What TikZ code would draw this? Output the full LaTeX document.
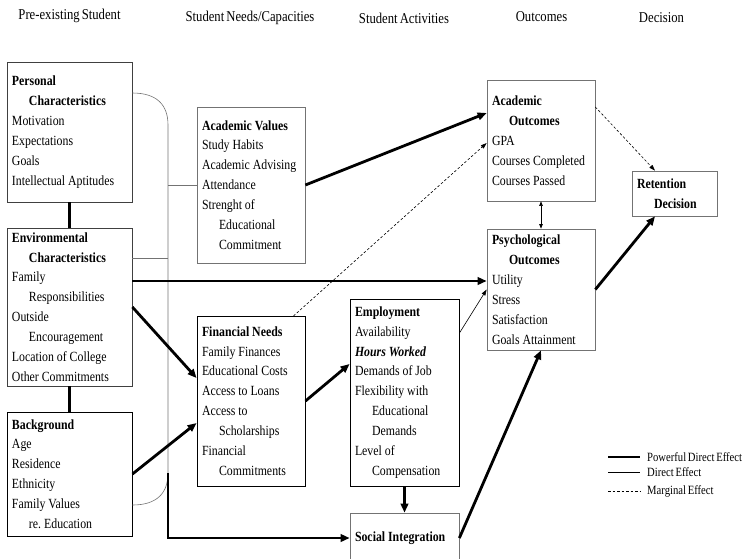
\documentclass[tikz,border=0pt]{standalone}
\usepackage{fontspec}
\setmainfont{Liberation Serif}[FakeStretch=0.845,WordSpace=0.65]
\usetikzlibrary{arrows.meta,calc}
\begin{document}
\begin{tikzpicture}[x=1pt,y=-1pt,
  box/.style={draw=black!55, line width=0.7pt, inner xsep=5pt, inner ysep=2pt,
    align=left, anchor=center, font=\fontsize{14}{19.9}\selectfont,
    execute at begin node={\spaceskip 2.9pt plus 1pt\xspaceskip 3pt plus 1pt\relax}},
  darkbox/.style={box, draw=black, line width=0.9pt},
  head/.style={font=\fontsize{15}{18}\selectfont, anchor=center},
  legtext/.style={font=\fontsize{12.6}{15}\selectfont, anchor=west, inner sep=0pt},
  pow/.style={line width=2.8pt, -{Triangle[length=9pt,width=7.5pt]}},
  powline/.style={line width=2.8pt},
  direct/.style={line width=0.6pt, -{Triangle[length=6pt,width=4pt]}},
  marginal/.style={line width=0.6pt, dash pattern=on 2.5pt off 2pt, -{Triangle[length=6pt,width=4pt]}},
  conn/.style={draw=black!55, line width=0.6pt}
]
\useasboundingbox (0,0) rectangle (749,558);

% headers
\node[head] (h1) at (69.5,16) {Pre-existing Student};
\node[head] (h2) at (250,18) {Student Needs/Capacities};
\node[head] (h3) at (404,18) {Student Activities};
\node[head] (h4) at (541.5,17) {Outcomes};
\node[head] (h5) at (661.5,18) {Decision};

% boxes
\node[box, draw=black!75, minimum width=125pt, text width=115pt, minimum height=140pt] (pers) at (69.5,132)
 {\textbf{Personal}\\\hspace*{17pt}\textbf{Characteristics}\\Motivation\\Expectations\\Goals\\Intellectual Aptitudes};
\node[box, draw=black!75, minimum width=125pt, text width=115pt, minimum height=158pt] (env) at (69.5,307)
 {\textbf{Environmental}\\\hspace*{17pt}\textbf{Characteristics}\\Family\\\hspace*{17pt}Responsibilities\\Outside\\\hspace*{17pt}Encouragement\\Location of College\\Other Commitments};
\node[darkbox, minimum width=125pt, text width=115pt, minimum height=124pt] (back) at (69.5,474)
 {\textbf{Background}\\Age\\Residence\\Ethnicity\\Family Values\\\hspace*{17pt}re. Education};
\node[box, minimum width=108pt, text width=98pt, minimum height=156pt] (acv) at (251,185)
 {\textbf{Academic Values}\\Study Habits\\Academic Advising\\Attendance\\Strenght of\\\hspace*{17pt}Educational\\\hspace*{17pt}Commitment};
\node[darkbox, minimum width=108pt, text width=98pt, minimum height=170pt] (fin) at (251,401)
 {\textbf{Financial Needs}\\Family Finances\\Educational Costs\\Access to Loans\\Access to\\\hspace*{17pt}Scholarships\\Financial\\\hspace*{17pt}Commitments};
\node[darkbox, minimum width=109pt, text width=99pt, minimum height=187pt] (emp) at (404.5,392.5)
 {\textbf{Employment}\\Availability\\\textbf{\textit{Hours Worked}}\\Demands of Job\\Flexibility with\\\hspace*{17pt}Educational\\\hspace*{17pt}Demands\\Level of\\\hspace*{17pt}Compensation};
\node[box, minimum width=109pt, text width=99pt, minimum height=50pt] (soc) at (404.5,538)
 {\textbf{Social Integration}};
\node[box, minimum width=108pt, text width=98pt, minimum height=121pt] (aco) at (541,140.5)
 {\textbf{Academic}\\\hspace*{17pt}\textbf{Outcomes}\\GPA\\Courses Completed\\Courses Passed};
\node[box, minimum width=108pt, text width=98pt, minimum height=121pt] (pso) at (541,289.5)
 {\textbf{Psychological}\\\hspace*{17pt}\textbf{Outcomes}\\Utility\\Stress\\Satisfaction\\Goals Attainment};
\node[box, minimum width=85pt, text width=75pt, minimum height=45pt] (ret) at (674.5,193.5)
 {\textbf{Retention}\\\hspace*{17pt}\textbf{Decision}};

% left column links
\draw[powline] (pers.south) -- (env.north);
\draw[powline] (env.south) -- (back.north);

% bracket
\coordinate (bt) at (168,125);
\coordinate (bb) at (168,473);
\draw[conn] (pers.north east |- 0,93) .. controls (157,93) and (168,105) .. (bt) -- (bb)
  .. controls (168,493) and (157,505) .. (back.north east |- 0,505);
\draw[conn] (env.north east |- 0,258) -- (bt |- 0,258);
\draw[conn] (bt |- acv.west) -- (acv.west);

% arrows
\draw[pow] (bb) -- (bb |- soc.west) -- (soc.west);
\draw[pow] (env.north east |- 0,281) -- (pso.west |- 0,281);
\draw[pow] (env.east) -- (fin.west |- 0,378);
\draw[pow] (back.east) -- (fin.west |- 0,423);
\draw[pow] (fin.east) -- (emp.west |- 0,364);
\draw[pow] (emp.south) -- (soc.north);
\draw[pow] (acv.east) -- (aco.west |- 0,113);
\draw[marginal] (fin.north east |- 0,316) ++(-12,0) coordinate (fs) (fs) -- (aco.west |- 0,143);
\draw[direct] (emp.east |- 0,333) -- (pso.west);
\draw[pow] (soc.east) -- (pso.south);
\draw[pow] (pso.east) -- (ret.south west -| 655,0);
\draw[marginal] (aco.east |- 0,107) -- (ret.north west -| 655,0);
\draw[line width=0.6pt, {Triangle[length=4.5pt,width=3.5pt]}-{Triangle[length=4.5pt,width=3.5pt]}] (aco.south) -- (pso.north);

% legend
\node[legtext] (l1) at (647,457) {Powerful Direct Effect};
\node[legtext] (l2) at (647,472) {Direct Effect};
\node[legtext] (l3) at (647,491) {Marginal Effect};
\coordinate (s1) at (608,457);
\coordinate (s2) at (608,472);
\coordinate (s3) at (608,491);
\draw[powline] (s1) -- ++(32,0);
\draw[line width=0.6pt] (s2) -- ++(32,0);
\draw[line width=0.6pt, dash pattern=on 2.5pt off 2pt] (s3) -- ++(32,0);
\end{tikzpicture}
\end{document}
